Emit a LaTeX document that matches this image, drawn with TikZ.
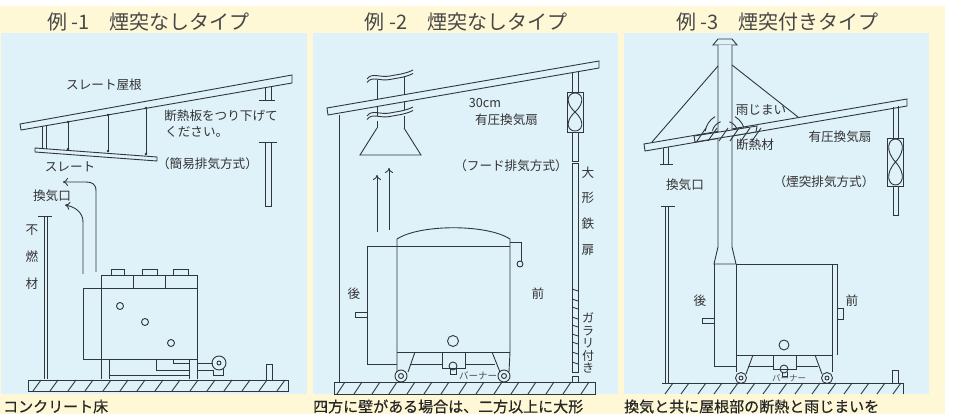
\documentclass[tikz,border=0pt]{standalone}
\usepackage{fontspec}
\usetikzlibrary{arrows.meta}
\setmainfont{Noto Sans CJK JP}
\newfontfamily\footfont[FakeBold=0.5]{Noto Sans CJK JP}
\definecolor{creambg}{HTML}{FFF8D6}
\definecolor{panelbg}{HTML}{DFF1F9}
\definecolor{inkline}{HTML}{30373B}
\newcommand{\fanunit}[3]{
  \draw[part] (#1-8,#2) rectangle (#1+8,#2+#3);
  \draw[part] (#1,#2+#3/2) .. controls (#1+11,#2+#3/4) and (#1+7,#2+1) .. (#1,#2+1)
    .. controls (#1-7,#2+1) and (#1-11,#2+#3/4) .. (#1,#2+#3/2)
    .. controls (#1+11,#2+#3*3/4) and (#1+7,#2+#3-1) .. (#1,#2+#3-1)
    .. controls (#1-7,#2+#3-1) and (#1-11,#2+#3*3/4) .. (#1,#2+#3/2);
}
\begin{document}
\begin{tikzpicture}[x=1pt, y=-1pt, >={To[length=5pt,width=8pt]},
    part/.style = {draw=inkline, line width=0.9pt},
    thickpart/.style = {draw=inkline, line width=1pt},
    hatchline/.style = {draw=inkline, line width=0.9pt},
    panel/.style = {fill=panelbg},
    hangdot/.style = {fill=inkline},
    titletext/.style = {font=\fontsize{20}{21}\selectfont, text=black!72, inner sep=0pt},
    note/.style = {font=\fontsize{12.6}{14}\selectfont, text=black!80, inner sep=0pt},
    smallnote/.style = {font=\fontsize{9.5}{10}\selectfont, text=black!70, inner sep=0pt},
    caption/.style = {font=\footfont\fontsize{15}{16}\selectfont, text=black!85, inner sep=0pt, anchor=west}]
  \useasboundingbox (0,0) rectangle (954,414);
  \fill[creambg] (0,6) rectangle (945,414);
  \fill[panel] (1,33) rectangle (307,394);
  \fill[panel] (313,33) rectangle (618,394);
  \fill[panel] (624,33) rectangle (929,394);

  \node at (148.5, 22) [titletext] (title1) {例 -1　煙突なしタイプ};
  \node at (466, 22) [titletext] (title2) {例 -2　煙突なしタイプ};
  \node at (777.5, 22) [titletext] (title3) {例 -3　煙突付きタイプ};
  \node at (3, 406.5) [caption] (foot1) {コンクリート床};
  \node at (313, 406.5) [caption] (foot2) {四方に壁がある場合は、二方以上に大形};
  \node at (624, 406.5) [caption] (foot3) {換気と共に屋根部の断熱と雨じまいを};

  % example 1
  \draw[part] (20,124) -- (292,75) -- (292,83) -- (21,130) -- cycle;
  \draw[part] (265,87) -- (265,100) (271,86) -- (271,100);
  \draw[part] (259,100) -- (275,100);
  \draw[part] (259,142) -- (277,142);
  \draw[part] (265,142) -- (265,206) -- (271,206) -- (271,142);
  \draw[part] (35,148) -- (157,157) -- (157,161) -- (35,152) -- cycle;
  \draw[part] (42,126) -- (42,149) (46,126) -- (46,149);
  \draw[part] (68,122) -- (68,150);
  \draw[part] (108,115) -- (108,152);
  \draw[part] (146,108) -- (146,155);
  \foreach \dx/\dy in {68/122,68/149,108/115,108/151,146/108,146/154}
    \fill[hangdot] (\dx,\dy) circle (1.4);
  \draw[part, ->] (96,272) -- (96,191) .. controls (96,184) and (92,182) .. (86,182) -- (63,182);
  \draw[part, ->] (83,274) -- (83,222) .. controls (83,213) and (76,207) .. (65,205);
  \draw[thickpart] (44,217) -- (44,379) (47,217) -- (47,379);
  \draw[part] (38,216) -- (52,216);

  \draw[part] (101,275) rectangle (197,288);
  \draw[part] (133,275) -- (133,288) (165,275) -- (165,288);
  \draw[part] (111,275) -- (111,269) -- (124,269) -- (124,275);
  \draw[part] (142,275) -- (142,269) -- (157,269) -- (157,275);
  \draw[part] (173,275) -- (173,269) -- (188,269) -- (188,275);
  \draw[part] (83,288) rectangle (197,359);
  \draw[part] (101,288) -- (101,379) (109,359) -- (109,379);
  \draw[part] (189,359) -- (189,379) (197,359) -- (197,379);
  \draw[part] (109,375) -- (189,375);
  \draw[part] (156,359) -- (156,370) -- (189,370);
  \draw[part] (173,359) -- (173,363) -- (189,363);
  \draw[part] (197,363) -- (213,363) (197,370) -- (213,370);
  \draw[part] (219,363) circle (7);
  \draw[part] (219,363) circle (2);
  \draw[part] (213,370) -- (213,375) -- (223,375) -- (223,369);
  \draw[part] (120,306) circle (3.5);
  \draw[part] (145,322) circle (3.5);
  \draw[part] (171,343) circle (3.5);
  \draw[part] (28,380) rectangle (288,391);
  \foreach \hx in {33,50,68,85,103,120,137,155,172,190,207,224,242,259,277}
    \draw[hatchline] (\hx,391) -- (\hx+8,380);
  \draw[part] (266,380) -- (266,364) -- (272,364) -- (272,380);

  \node at (104, 85) [note] (roofslate) {スレート屋根};
  \node at (221, 116) [note] (hangtext) {断熱板をつり下げて};
  \node at (165, 132) [note, anchor=west] (hangtext2) {ください。};
  \node at (207.5, 164) [note] (simple) {（簡易排気方式）};
  \node at (70, 167) [note] (slate) {スレート};
  \node at (52, 196) [note] (vent1) {換気口};
  \node at (32, 230) [note] (fu) {不};
  \node at (32, 257) [note] (nen) {燃};
  \node at (32, 284) [note] (zai) {材};

  % example 2
  \draw[part] (327,108) -- (599,61) -- (599,68) -- (328,115) -- cycle;
  \draw[part] (339,115) -- (339,382);
  \draw[part] (377,80) -- (377,99.4) (404,76) -- (404,94.7);
  \draw[part] (377,106.4) -- (377,116) (404,101.7) -- (404,110);
  \draw[part] (377,121) -- (377,128) (404,116) -- (404,128);
  \draw[part] (377,128) -- (360,155) -- (421,155) -- (404,128);
  \foreach \wy in {0,3.5,37,40.5}
    \draw[part] (367,79+\wy) .. controls (372,72+\wy) and (380,78+\wy) .. (390,76+\wy)
      .. controls (400,74+\wy) and (405,74+\wy) .. (413,70+\wy);
  \draw[part, ->] (377,232) -- (377,175);
  \draw[part, ->] (389,230) -- (389,168);
  \draw[part] (572,72) -- (572,92) (578,71) -- (578,92);
  \fanunit{575}{92}{40}
  \draw[part] (572,132) -- (572,161) -- (578,161) -- (578,132);
  \draw[part] (572,163) rectangle (578,372);
  \foreach \ly in {289,299,307,317,325,334,342,352,362}
    \draw[part] (572,\ly) -- (578,\ly+2);
  \draw[part] (572,382) -- (572,376) -- (578,376) -- (578,382);

  \draw[part] (397,352) -- (397,239) .. controls (420,224) and (487,224) .. (510,239) -- (510,352);
  \draw[part] (397,352) -- (510,352);
  \draw[part] (397,246) -- (367,246) -- (367,364) -- (397,364);
  \draw[part] (397,246) -- (510,246);
  \draw[part] (367,312) -- (355,312) -- (355,317) -- (367,317);
  \draw[part] (510,242) -- (521,242) -- (521,261);
  \draw[part] (520,264) circle (3);
  \draw[part] (453,341) circle (5.5);
  \draw[part] (397,352) -- (397,372) (415,352) -- (408,372);
  \draw[part] (492,352) -- (500,372) (510,352) -- (509,372);
  \draw[part] (411,364) -- (442,364) (465,364) -- (495,364);
  \draw[part] (442,352) -- (442,368) -- (465,368) -- (465,352);
  \draw[part] (453,366) circle (4);
  \draw[part] (450,369) -- (450,374) -- (456,374) -- (456,369);
  \draw[part] (401,376) circle (6);
  \draw[part] (401,376) circle (2.5);
  \draw[part] (504,376) circle (6);
  \draw[part] (504,376) circle (2.5);
  \draw[part] (334,382) rectangle (595,394);
  \foreach \hx in {337,354,372,389,407,424,441,459,476,494,511,528,546,563,581}
    \draw[hatchline] (\hx,394) -- (\hx+8,382);

  \node at (485, 103) [note] (thirty) {30cm};
  \node at (506.5, 120) [note] (fan2) {有圧換気扇};
  \node at (511, 166) [note] (hood) {（フード排気方式）};
  \node at (588, 173) [note] (dai) {大};
  \node at (588, 198) [note] (kei) {形};
  \node at (588, 224) [note] (tetsu) {鉄};
  \node at (588, 250) [note] (tobira) {扉};
  \node at (588, 343) [note, align=center, font=\fontsize{12}{12.6}\selectfont] (louver) {ガ\\ラ\\リ\\付\\き};
  \node at (354, 294) [note] (back2) {後};
  \node at (538, 294) [note] (front2) {前};
  \node at (478, 376) [smallnote] (burner2) {バーナー};

  % example 3
  \draw[part] (644,144) -- (907,99) -- (907,106) -- (645,151) -- cycle;
  \draw[part] (713,45) -- (718,39) -- (732,39) -- (737,45) -- cycle;
  \draw[part, fill=panelbg] (718,45) -- (718,247) -- (714,264) -- (736,264) -- (732,247) -- (732,45);
  \draw[part] (718,66) -- (652,142);
  \draw[part] (732,65) -- (798,117);
  \draw[part] (725,134) ++(-172:20) arc[start angle=-172, end angle=-120, radius=20];
  \draw[part] (725,134) ++(-165:13) arc[start angle=-165, end angle=-110, radius=13];
  \draw[part] (725,134) ++(-60:20) arc[start angle=-60, end angle=-5, radius=20];
  \draw[part] (725,134) ++(-70:13) arc[start angle=-70, end angle=-15, radius=13];
  \draw[part, fill=panelbg] (694,136) -- (757,126) -- (756,132) -- (695,142) -- cycle;
  \foreach \hx in {697,708,719,730,741,752}
    \draw[part] (\hx,141) -- (\hx+9,128);
  \draw[part] (663,148) -- (663,164) (668,147) -- (668,164);
  \draw[part] (660,164) -- (673,164);
  \draw[part] (893,107) -- (893,138) (898,106) -- (898,138);
  \fanunit{895.5}{138}{48}
  \draw[part] (893,186) -- (893,215) -- (898,215) -- (898,186);
  \draw[part] (892,383) -- (892,370) -- (898,370) -- (898,383);
  \draw[part] (661,206) -- (675,206);
  \draw[thickpart] (665,206) -- (665,383) (668,206) -- (668,383);

  \draw[part] (714,264) -- (714,366) -- (736,366);
  \draw[part] (736,264) -- (837,264) -- (837,355);
  \draw[part] (736,264) -- (736,372);
  \draw[part] (832,264) -- (832,372);
  \draw[part] (736,355) -- (832,355);
  \draw[part] (837,308) -- (843,308) -- (843,319) -- (837,319);
  \draw[part] (714,318) -- (702,318) -- (702,323) -- (714,323);
  \draw[part] (784,345) circle (5);
  \draw[part] (753,355) -- (746,374) (815,355) -- (822,374);
  \draw[part] (748,366) -- (773,366) (796,366) -- (818,366);
  \draw[part] (773,355) -- (773,369) -- (796,369) -- (796,355);
  \draw[part] (784,369) circle (4);
  \draw[part] (782,372) -- (782,376) -- (787,376) -- (787,372);
  \draw[part] (741,378) circle (5.5);
  \draw[part] (741,378) circle (2);
  \draw[part] (827,378) circle (5.5);
  \draw[part] (827,378) circle (2);
  \draw[part] (662,383) -- (903,383) -- (903,394);
  \foreach \hx in {665,681,698,714,730,747,763,779,795,812,828,844,861,877,893}
    \draw[hatchline] (\hx,394) -- (\hx+8,383);

  \node at (761, 110) [note] (rain) {雨じまい};
  \node at (755, 145) [note] (insul) {断熱材};
  \node at (840, 137) [note] (fan3) {有圧換気扇};
  \node at (824, 182) [note] (flue) {（煙突排気方式）};
  \node at (685, 185) [note] (vent3) {換気口};
  \node at (700, 301) [note] (back3) {後};
  \node at (852, 301) [note] (front3) {前};
  \node at (789, 378) [smallnote, font=\fontsize{8.5}{9}\selectfont] (burner3) {バーナー};
\end{tikzpicture}
\end{document}
